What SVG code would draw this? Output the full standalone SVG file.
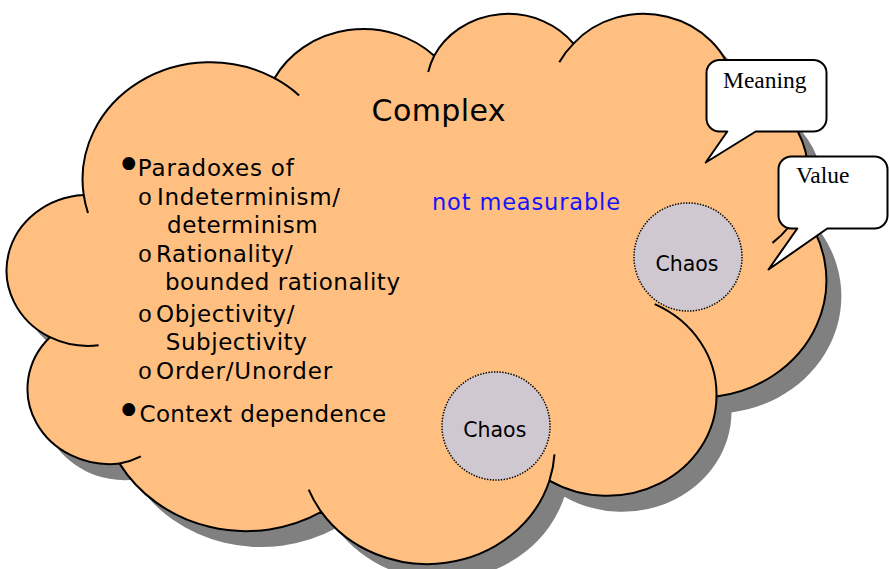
<svg xmlns="http://www.w3.org/2000/svg" xmlns:xlink="http://www.w3.org/1999/xlink" width="889" height="569" viewBox="0 0 889 569">
<style>
.outline{fill:#FFBF80;stroke:#000;stroke-width:2;stroke-linejoin:round}
.shadow{fill:#808080;stroke:none}
.inner{fill:none;stroke:#000;stroke-width:2;stroke-linecap:butt}
.chaos{fill:#D0C8D0;stroke:#000;stroke-width:1.5;stroke-dasharray:1.4 1.4}
.chaosText{font-family:"DejaVu Sans",Verdana,sans-serif;font-size:20.5px;fill:#000;text-anchor:middle}
.call{fill:#fff;stroke:#000;stroke-width:2;stroke-linejoin:round}
.callText{font-family:"Liberation Serif","Times New Roman",serif;font-size:23.5px;fill:#000}
.body{font-family:"DejaVu Sans",Verdana,sans-serif;font-size:23px;fill:#000}
.sub{font-family:"Liberation Mono","Courier New",monospace;font-size:24px;fill:#000}
.bul{font-family:"DejaVu Sans",Verdana,sans-serif;font-size:44px;fill:#000;text-anchor:middle}
</style>
<defs>
<path id="cloudPath" d="M 83.7 194.9 A 127.6 117.0 0 0 1 274.5 78.2 A 100.7 92.5 0 0 1 434.2 55.7 A 82.5 75.7 0 0 1 573.5 43.6 A 91.7 84.0 0 0 1 733.8 83.0 A 100.7 92.6 0 0 1 799.9 208.8 A 128.0 117.4 0 0 1 716.5 396.5 A 109.3 100.2 0 0 1 549.4 480.7 A 127.5 117.3 0 0 1 321.3 511.9 A 145.8 134.2 0 0 1 119.6 463.6 A 82.4 75.3 0 0 1 49.9 337.2 A 82.1 75.7 0 0 1 83.7 194.9 Z"/>
</defs>
<g id="cloud">
<use xlink:href="#cloudPath" href="#cloudPath" class="shadow" transform="translate(15,16)"/>
<use xlink:href="#cloudPath" href="#cloudPath" class="outline"/>
<path class="inner" d="M 98.6 345.3 A 82.1 75.7 0 0 1 49.9 337.2 M 140.9 456.3 A 82.4 75.3 0 0 1 119.6 463.6 M 321.3 511.9 A 127.5 117.3 0 0 1 308.7 489.7 M 554.5 454.4 A 127.5 117.3 0 0 1 549.4 480.7 M 654.7 304.2 A 109.3 100.2 0 0 1 716.5 396.5 M 799.9 208.8 A 100.7 92.6 0 0 1 772.5 242.9 M 733.8 83.0 A 91.7 84.0 0 0 1 735.2 99.1 M 559.3 62.3 A 91.7 84.0 0 0 1 573.5 43.6 M 428.2 72.1 A 82.5 75.7 0 0 1 434.2 55.7 M 274.5 78.2 A 127.6 117.0 0 0 1 299.1 95.4 M 88.0 213.0 A 127.6 117.0 0 0 1 83.7 194.9"/>
<text x="371.6" y="121" font-family="DejaVu Sans, Verdana, sans-serif" font-size="30" textLength="134" lengthAdjust="spacing">Complex</text>
<text x="432" y="210" font-family="DejaVu Sans, Verdana, sans-serif" font-size="22.5" fill="#1414FF" textLength="188" lengthAdjust="spacing">not measurable</text>
<text class="bul" x="128.7" y="179.5">•</text>
<text class="body" x="137.8" y="176" textLength="156" lengthAdjust="spacing">Paradoxes of</text>
<text class="sub" x="137.8" y="205">o</text>
<text class="body" x="157.1" y="205" textLength="183" lengthAdjust="spacing">Indeterminism/</text>
<text class="body" x="167.1" y="232.7" textLength="150.6" lengthAdjust="spacing">determinism</text>
<text class="sub" x="137.8" y="261.7">o</text>
<text class="body" x="156.1" y="261.7" textLength="136.6" lengthAdjust="spacing">Rationality/</text>
<text class="body" x="165" y="290.3" textLength="235" lengthAdjust="spacing">bounded rationality</text>
<text class="sub" x="137.8" y="321.7">o</text>
<text class="body" x="156.1" y="321.7" textLength="138.5" lengthAdjust="spacing">Objectivity/</text>
<text class="body" x="165.8" y="350" textLength="141" lengthAdjust="spacing">Subjectivity</text>
<text class="sub" x="137.8" y="379.3">o</text>
<text class="body" x="156.1" y="379.3" textLength="176" lengthAdjust="spacing">Order/Unorder</text>
<text class="bul" x="128.7" y="425.7">•</text>
<text class="body" x="139.4" y="421.7" textLength="246.8" lengthAdjust="spacing">Context dependence</text>
</g>
<g id="chaos1">
<circle class="chaos" cx="688" cy="257" r="54"/>
<text class="chaosText" x="687" y="270.7">Chaos</text>
</g>
<g id="chaos2">
<circle class="chaos" cx="496" cy="426" r="54"/>
<text class="chaosText" x="494.8" y="437.3">Chaos</text>
</g>
<g id="meaning">
<path class="call" d="M 719.5 60 H 813.5 A 13 13 0 0 1 826.5 73 V 118.5 A 13 13 0 0 1 813.5 131.5 H 755.7 L 705.7 162.5 L 727.3 131.5 H 719.5 A 13 13 0 0 1 706.5 118.5 V 73 A 13 13 0 0 1 719.5 60 Z"/>
<text class="callText" x="723" y="88.3">Meaning</text>
</g>
<g id="value">
<path class="call" d="M 791.5 156.5 H 874.5 A 13 13 0 0 1 887.5 169.5 V 215.5 A 13 13 0 0 1 874.5 228.5 H 827.3 L 768.5 269.5 L 797.3 228.5 H 791.5 A 13 13 0 0 1 778.5 215.5 V 169.5 A 13 13 0 0 1 791.5 156.5 Z"/>
<text class="callText" x="796" y="183.3">Value</text>
</g>
<g id="connectors"/>
</svg>
